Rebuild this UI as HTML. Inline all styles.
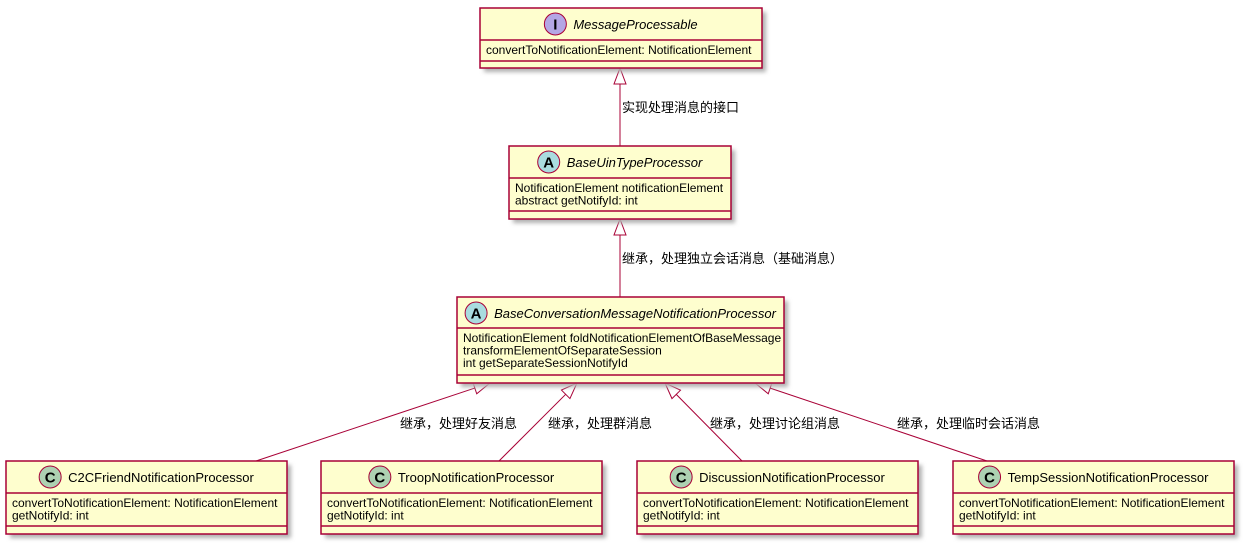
<!DOCTYPE html>
<html><head><meta charset="utf-8"><style>
body{margin:0;background:#fff;width:1245px;height:544px;overflow:hidden}
svg text{font-family:"Liberation Sans","Noto Sans CJK SC",sans-serif;font-size:12px;fill:#000}
</style></head><body>
<svg id="s" width="1245" height="544" xmlns="http://www.w3.org/2000/svg">
<defs><filter id="sh" x="-10%" y="-10%" width="130%" height="140%"><feGaussianBlur stdDeviation="2"/></filter></defs>
</svg>
<script>
const s=document.getElementById('s');const NS='http://www.w3.org/2000/svg';
function el(t,a,txt){const e=document.createElementNS(NS,t);for(const k in a)e.setAttribute(k,a[k]);if(txt!=null)e.textContent=txt;s.appendChild(e);return e;}
function box(x,y,w,hs,as,b,name,letter,col,italic,attrs){
 el('rect',{x:x+4,y:y+4,width:w,height:b-y,fill:'#b0b0b0',filter:'url(#sh)'});
 el('rect',{x:x,y:y,width:w,height:b-y,fill:'#FEFECE',stroke:'#A80036','stroke-width':1.5});
 el('line',{x1:x,y1:hs,x2:x+w,y2:hs,stroke:'#A80036','stroke-width':1.5});
 el('line',{x1:x,y1:as,x2:x+w,y2:as,stroke:'#A80036','stroke-width':1.5});
 const t=el('text',{x:0,y:y+21,style:'font-size:13px;'+(italic?'font-style:italic':'')},name);
 const tw=t.getComputedTextLength();const total=22+7+tw;const st=x+w/2-total/2;
 t.setAttribute('x',st+29);
 const cx=st+11;
 el('circle',{cx:cx,cy:y+16,r:11,fill:col,stroke:'#A80036','stroke-width':1});
 el('text',{x:cx,y:y+21.5,'text-anchor':'middle',style:'font-size:15px;font-weight:bold'},letter);
 attrs.forEach((a,i)=>el('text',{x:x+6,y:hs+14+i*12.5},a));
}
function arrow(x1,y1,x2,y2){
 const dx=x2-x1,dy=y2-y1,L=Math.hypot(dx,dy),ux=dx/L,uy=dy/L,px=-uy,py=ux;
 const bx=x1+ux*16,by=y1+uy*16;
 el('line',{x1:bx,y1:by,x2:x2,y2:y2,stroke:'#A80036','stroke-width':1});
 el('polygon',{points:`${x1},${y1} ${bx+px*6},${by+py*6} ${bx-px*6},${by-py*6}`,fill:'#fff',stroke:'#A80036','stroke-width':1});
}
arrow(620,68,620,146);arrow(620,219,620,297);
arrow(490,383,256,461);arrow(577,383,499,461);arrow(665,383,742,461);arrow(755,383,987,461);
box(480,8,282,40,61,68,'MessageProcessable','I','#B4A7E5',true,['convertToNotificationElement: NotificationElement']);
box(509,146,222,178,211,219,'BaseUinTypeProcessor','A','#A9DCDF',true,['NotificationElement notificationElement','abstract getNotifyId: int']);
box(457,297,327,328,375,383,'BaseConversationMessageNotificationProcessor','A','#A9DCDF',true,['NotificationElement foldNotificationElementOfBaseMessage','transformElementOfSeparateSession','int getSeparateSessionNotifyId']);
const ch=[[6,'C2CFriendNotificationProcessor'],[321,'TroopNotificationProcessor'],[637,'DiscussionNotificationProcessor'],[953,'TempSessionNotificationProcessor']];
ch.forEach(([x,n])=>box(x,461,281,493,526,534,n,'C','#ADD1B2',false,['convertToNotificationElement: NotificationElement','getNotifyId: int']));
[[622,112,'实现处理消息的接口'],[622,263,'继承，处理独立会话消息（基础消息）'],[400,428,'继承，处理好友消息'],[548,428,'继承，处理群消息'],[710,428,'继承，处理讨论组消息'],[897,428,'继承，处理临时会话消息']].forEach(([x,y,t])=>el('text',{x:x,y:y,style:'font-size:13px'},t));
</script>
</body></html>
